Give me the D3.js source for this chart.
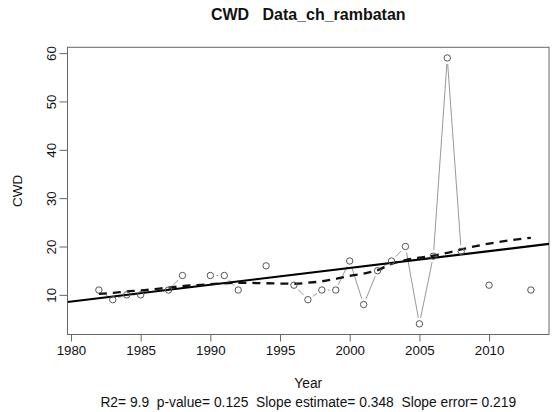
<!DOCTYPE html>
<html>
<head>
<meta charset="utf-8">
<script src="https://cdn.jsdelivr.net/npm/d3@7"></script>
<style>
  html, body { margin: 0; padding: 0; background: #fff; }
  svg { display: block; font-family: "Liberation Sans", Arial, sans-serif; }
</style>
</head>
<body>
<svg id="chart" width="552" height="412"></svg>
<script>
// ---- data ----
const years  = [1982,1983,1984,1985,1987,1988,1990,1991,1992,1994,1996,1997,1998,1999,2000,2001,2002,2003,2004,2005,2006,2007,2008,2010,2013];
const cwd    = [11,9,10,10,11,14,14,14,11,16,12,9,11,11,17,8,15,17,20,4,18,59,19,12,11];
const smooth = [10.2,10.4,10.7,10.9,11.5,11.8,12.2,12.4,12.5,12.4,12.3,12.5,12.8,13.3,13.9,14.4,15.1,16.4,17.2,17.7,18.1,18.7,19.4,20.6,21.8];
const xTicks = [1980,1985,1990,1995,2000,2005,2010];
const yTicks = [10,20,30,40,50,60];
const titleText = "CWD   Data_ch_rambatan";
const xLabel = "Year";
const yLabel = "CWD";
const statsText = "R2= 9.9  p-value= 0.125  Slope estimate= 0.348  Slope error= 0.219";

// ---- layout ----
const L = 67.5, R = 549, T = 47.3, B = 334.5;
const svg = d3.select("#chart");
const x = d3.scaleLinear().domain([1979.75, 2014.3]).range([L, R]);
const y = d3.scaleLinear().domain([1.8, 61.2]).range([B, T]);
const axisCol = "#666";

svg.append("defs").append("clipPath").attr("id", "clip")
  .append("rect").attr("x", L).attr("y", T).attr("width", R - L).attr("height", B - T);

svg.append("rect").attr("x", L).attr("y", T).attr("width", R - L).attr("height", B - T)
  .attr("fill", "none").attr("stroke", axisCol).attr("stroke-width", 1);

const xAxis = svg.append("g").attr("transform", `translate(0,${B})`)
  .call(d3.axisBottom(x).tickValues(xTicks).tickFormat(d3.format("d")).tickSize(7).tickPadding(4));
const yAxis = svg.append("g").attr("transform", `translate(${L},0)`)
  .call(d3.axisLeft(y).tickValues(yTicks).tickSize(8).tickPadding(5));
[xAxis, yAxis].forEach(g => {
  g.select(".domain").remove();
  g.selectAll(".tick line").attr("stroke", axisCol);
  g.selectAll("text").attr("fill", "#111").style("font-size", "13.3px").style("font-family", "Liberation Sans, Arial, sans-serif");
});
svg.append("line").attr("x1", x(xTicks[0])).attr("x2", x(xTicks[xTicks.length-1]))
  .attr("y1", B).attr("y2", B).attr("stroke", axisCol);
svg.append("line").attr("x1", L).attr("x2", L)
  .attr("y1", y(yTicks[0])).attr("y2", y(yTicks[yTicks.length-1])).attr("stroke", axisCol);
yAxis.selectAll(".tick text")
  .attr("x", 0).attr("dy", null)
  .attr("text-anchor", "middle")
  .attr("transform", "translate(-16,0) rotate(-90)")
  .attr("y", 0).attr("dominant-baseline", "central");

const plot = svg.append("g").attr("clip-path", "url(#clip)");

// thin connecting line (type "b": gaps around points, breaks at missing years)
const pts = years.map((yr, i) => ({yr, v: cwd[i]}));
const gap = 6;
for (let i = 0; i < pts.length - 1; i++) {
  const a = pts[i], b = pts[i+1];
  if (b.yr - a.yr !== 1) continue;
  const x1 = x(a.yr), y1 = y(a.v), x2 = x(b.yr), y2 = y(b.v);
  const len = Math.hypot(x2 - x1, y2 - y1);
  if (len <= 2 * gap) continue;
  const ux = (x2 - x1) / len, uy = (y2 - y1) / len;
  plot.append("line")
    .attr("x1", x1 + ux * gap).attr("y1", y1 + uy * gap)
    .attr("x2", x2 - ux * gap).attr("y2", y2 - uy * gap)
    .attr("stroke", "#999").attr("stroke-width", 1);
}

// regression line (OLS from the data)
const mx = d3.mean(years), my = d3.mean(cwd);
const sxy = d3.sum(years, (d, i) => (d - mx) * (cwd[i] - my));
const sxx = d3.sum(years, d => (d - mx) * (d - mx));
const slope = sxy / sxx, icpt = my - slope * mx;
const xd = x.domain();
plot.append("line")
  .attr("x1", x(xd[0])).attr("y1", y(icpt + slope * xd[0]))
  .attr("x2", x(xd[1])).attr("y2", y(icpt + slope * xd[1]))
  .attr("stroke", "#000").attr("stroke-width", 2.2);

// smooth dashed line
plot.append("path")
  .datum(years.map((yr, i) => [yr, smooth[i]]))
  .attr("fill", "none").attr("stroke", "#111").attr("stroke-width", 2.3)
  .attr("stroke-dasharray", "8,6")
  .attr("d", d3.line().x(d => x(d[0])).y(d => y(d[1])).curve(d3.curveMonotoneX));

// points
plot.selectAll("circle.pt").data(pts).enter().append("circle")
  .attr("class", "pt")
  .attr("cx", d => x(d.yr)).attr("cy", d => y(d.v)).attr("r", 3.2)
  .attr("fill", "none").attr("stroke", "#555").attr("stroke-width", 1);

// title and labels
svg.append("text").attr("x", (L + R) / 2).attr("y", 19.5)
  .attr("text-anchor", "middle").attr("xml:space", "preserve").style("white-space", "pre")
  .style("font-weight", "bold").style("font-size", "16px").attr("fill", "#111")
  .text(titleText);
svg.append("text").attr("x", (L + R) / 2).attr("y", 388)
  .attr("text-anchor", "middle").style("font-size", "13.8px").attr("fill", "#111")
  .text(xLabel);
svg.append("text").attr("x", (L + R) / 2).attr("y", 406.5)
  .attr("text-anchor", "middle").attr("xml:space", "preserve").style("white-space", "pre")
  .style("font-size", "13.8px").attr("fill", "#111")
  .text(statsText);
svg.append("text").attr("transform", `translate(22,${(T + B) / 2}) rotate(-90)`)
  .attr("text-anchor", "middle").style("font-size", "13.5px").attr("fill", "#111")
  .text(yLabel);
</script>
</body>
</html>
